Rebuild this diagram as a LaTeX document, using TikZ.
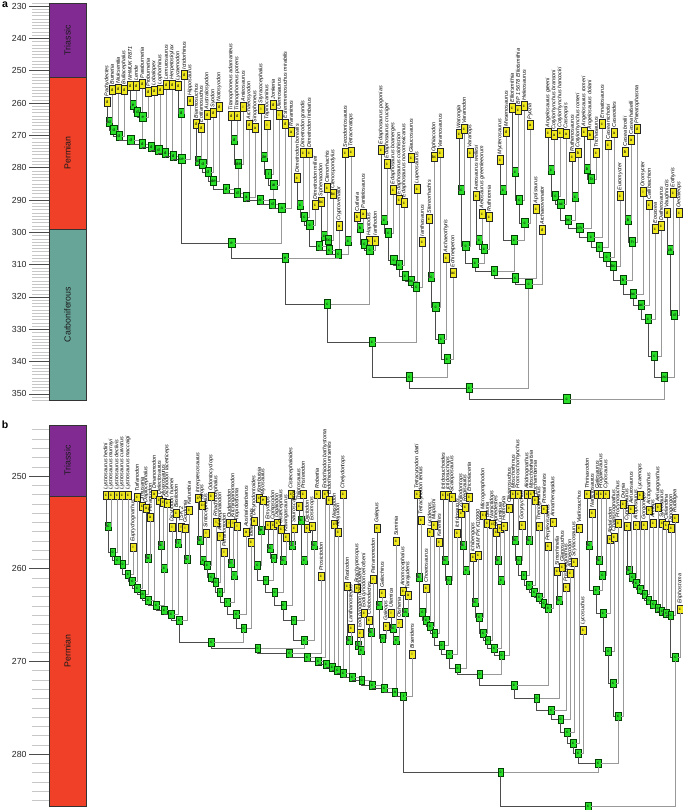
\documentclass[tikz,border=0pt]{standalone}
\usepackage{fontspec}
\setmainfont{Liberation Sans}
\usepackage{tikz}

\definecolor{leafyellow}{RGB}{240,232,30}
\definecolor{nodegreen}{RGB}{42,222,42}
\definecolor{triassic}{RGB}{129,43,146}
\definecolor{permian}{RGB}{240,64,40}
\definecolor{carbon}{RGB}{103,165,153}

% leaves: name/x/y/tag/taxon
\newcommand\leafrow[1]{%
  \foreach \nm/\lx/\ly/\tg/\tx in {#1}{%
    \node[leafbox] (\nm) at (\lx,\ly) {\tg};
    \node[taxon] (\nm-t) at (\nm.north) {\tx};
    \expandafter\xdef\csname nx@\nm\endcsname{\lx}%
  }%
}
% ladder: first child, prefix, list child/y/tag
\newcommand\treeladder[3]{%
  \xdef\lprev{#1}%
  \foreach \ch/\yy/\tg [count=\i] in {#3}{%
    \edef\xa{\csname nx@\lprev\endcsname}%
    \edef\xb{\csname nx@\ch\endcsname}%
    \pgfmathsetmacro\mx{(\xa+\xb)/2}%
    \node[nodebox] (#2\i) at (\mx,\yy) {\tg};
    \draw[lbranch] (\lprev.south) |- (#2\i);
    \draw[rbranch] (\ch.south) |- (#2\i);
    \expandafter\xdef\csname nx@#2\i\endcsname{\mx}%
    \xdef\lprev{#2\i}%
  }%
}

\begin{document}
\begin{tikzpicture}[x=0.03cm, y=-0.03cm,
  leafbox/.style={draw=black!85, fill=leafyellow, line width=0.35pt, inner sep=0.2pt,
    minimum width=5.4pt, minimum height=7.6pt, font=\fontsize{3.6}{4}\selectfont},
  nodebox/.style={leafbox, fill=nodegreen, draw=black!75!green},
  taxon/.style={rotate=90, anchor=west, inner sep=0.6pt, font=\fontsize{4.6}{5}\selectfont\itshape},
  lbranch/.style={draw=black!70, line width=0.55pt},
  rbranch/.style={draw=black!40, line width=0.55pt},
  minortick/.style={draw=black!22, line width=0.4pt},
  majortick/.style={draw=black!70, line width=0.5pt},
  ticklabel/.style={anchor=east, inner sep=1pt, font=\fontsize{7.5}{8}\selectfont, text=black!85},
  periodlabel/.style={rotate=90, font=\fontsize{7.5}{8}\selectfont, text=black!90},
  panellabel/.style={font=\fontsize{9}{10}\selectfont\bfseries},
  periodband/.style={draw=black!80, line width=0.4pt}
]
\useasboundingbox (0,0) rectangle (683,810);

% ---- panel a: time scale
\node[panellabel] (pa) at (5,5) {a};
\foreach \m in {229,...,352}{
  \pgfmathsetmacro\ty{6+(\m-230)*3.233}
  \draw[minortick] (32,\ty) -- (49,\ty);
}
\foreach \m in {230,240,...,350}{
  \pgfmathsetmacro\ty{6+(\m-230)*3.233}
  \draw[majortick] (29,\ty) -- (49,\ty);
  \node[ticklabel] (ta\m) at (28,\ty) {\m};
}
\filldraw[periodband, fill=triassic] (49,2.8) rectangle (86,77.7);
\filldraw[periodband, fill=permian] (49,77.7) rectangle (86,228.8);
\filldraw[periodband, fill=carbon] (49,228.8) rectangle (86,400.4);
\node[periodlabel] (tria) at (67.5,40.2) {Triassic};
\node[periodlabel] (perma) at (67.5,153.2) {Permian};
\node[periodlabel] (carba) at (67.5,314.6) {Carboniferous};

% ---- panel a: tree
\leafrow{a1/107/102/d/Pachydectes, a2/112/90/d/Burnetia, a3/118/89/d/Niuksenitia,
  a4/124/90/d/Bullacephalus, a5/130/86/d/NHMUK R871, a6/136/86/d/Lende,
  a7/142/84/d/Paraburnetia, a8/148/92/d/Proburnetia, a9/154/91/d/Lobalopex,
  a10/160/90/d/Lophorhinus, a11/166/85/d/Lemurosaurus, a12/172/85/d/Herpetoskylax,
  a13/178/86/d/Lycaenodon, a14/184/75/d/Ictidorhinus, a15/190/101/d/Hipposaurus,
  a16/196/124/d/Biarmosuchus, a17/201/128/d/Eotitanosuchus, a18/207/115/d/Australosyodon,
  a19/213/113/d/Syodon, a20/219/107/d/Notosyodon, a21/231/116/d/Titanophoneus adamanteus,
  a22/237/116/d/Titanophoneus potens, a23/243/107/i/Anteosaurus, a24/249/125/d/Archaeosyodon,
  a25/255/128/a/Sinophoneus, a26/261/109/i/Styracocephalus, a27/267/125/i/Tapinocaninus,
  a28/273/105/d/Jonkeria, a29/279/115/i/Ulemosaurus, a30/285/124/d/Estemmenosuchus mirabilis,
  a31/291/132/a/Raranimus, a32/297/178/c/Dimetrodon borealis, a33/303/153/c/Dimetrodon grandis,
  a34/309/153/c/Dimetrodon limbatus, a35/315/205/c/Dimetrodon milleri, a36/321/202/bc/Sphenacodon,
  a37/327/188/c/Ctenorhachis, a38/333/194/bc/Ctenospondylus, a39/339/226/a/Cryptovenator,
  a40/345/153/c/Secodontosaurus, a41/351/152/c/Tetraceratops, a42/357/217/b/Cutleria,
  a43/363/214/a/Pantelosaurus, a44/369/241/c/Haptodus, a45/375/241/c/Ianthodon,
  a46/381/150/c/Edaphosaurus pogonias, a47/387/164/c/Edaphosaurus cruciger,
  a48/393/190/c/Edaphosaurus boanerges, a49/399/200/c/Edaphosaurus colohistion,
  a50/404/203/c/Edaphosaurus novomexicanus, a51/411/158/c/Glaucosaurus, a52/417/189/c/Lupeosaurus,
  a53/422/242/c/Ianthasaurus, a54/429/219/c/Stereorhachis, a55/434/157/bc/Ophiacodon,
  a56/440/153/c/Varanosaurus, a57/446/258/c/Archaeothyris, a58/453/273/ac/Echinerpeton,
  a59/459/134/c/Watongia, a60/464/129/c/Varanodon, a61/470/153/c/Varanops,
  a62/476/196/c/Aerosaurus wellesi, a63/482/214/c/Aerosaurus greenleeorum, a64/489/217/c/Ruthiromia,
  a65/500/160/c/Mycterosaurus, a66/506/132/d/Mesenosaurus, a67/512/108/c/Elliotsmithia,
  a68/518/110/c/BP 1 5678 Elliotsmithia, a69/524/106/c/Heleosaurus, a70/530/125/a/Pyozia,
  a71/536/209/c/Apsisaurus, a72/542/230/d/Archaeovenator, a73/548/133/c/Angelosaurus greeni,
  a74/554/135/a/Cotylorhynchus bransoni, a75/560/133/c/Cotylorhynchus hancocki,
  a76/566/134/a/Caseopsis, a77/572/157/c/Ruthenosaurus, a78/578/153/b/Cotylorhynchus romeri,
  a79/584/132/c/Angelosaurus romeri, a80/590/135/b/Angelosaurus dolani, a81/596/153/c/Trichasaurus,
  a82/602/124/c/Ennatosaurus, a83/608/145/c/Casea nicholsi, a84/614/133/a/Caseoides,
  a85/620/196/c/Euromycter, a86/625/152/b/Casea broilii, a87/631/140/a/Casea halselli,
  a88/637/129/d/Phreatophasma, a89/643/192/i/Oromycter, a90/649/205/c/Callibrachion,
  a91/655/229/c/Eocasea, a92/661/226/c/Datheosaurus, a93/667/213/d/Vaughnictis,
  a94/673/193/c/Eothyris, a95/679/213/c/Oedaleops}

\treeladder{a5}{abx}{a6/105/e, a7/112/d, a8/117/e}
\treeladder{a13}{aby}{a14/113/d}
\treeladder{a1}{ab}{a2/122/d, a3/130/d, a4/136/d, abx3/140/d, a9/144/d, a10/147/d,
  a11/150/d, a12/153/d, aby1/156/d, a15/159/ce}
\treeladder{a21}{adt}{a22/140/d, a23/164/de}
\treeladder{a26}{ads}{a27/157/de, a28/174/i, a29/185/ai}
\treeladder{a16}{ad}{a17/161/d, a18/164/d, a19/172/d, a20/181/de, adt2/189/d, a24/193/d,
  a25/197/a, ads3/200/ai, a30/204/d, a31/208/a}
\treeladder{a32}{asd}{a33/205/c, a34/217/c, a35/225/c}
\treeladder{a36}{ass}{a37/236/c, a38/240/bc}
\treeladder{a40}{ast}{a41/241/c}
\treeladder{asd3}{as}{ass2/246/c, a39/250/c, ast1/254/c}
\treeladder{a42}{ah}{a43/228/b, a44/244/c, a45/250/c}
\treeladder{a46}{ae}{a47/220/c, a48/233/c, a49/260/c, a50/265/c, a51/276/c, a52/281/bc, a53/287/c}
\treeladder{a54}{ao}{a55/277/c, a56/307/c, a57/339/c, a58/359/c}
\treeladder{a59}{avv}{a60/190/c, a61/246/c}
\treeladder{a62}{ava}{a63/240/c, a64/249/c}
\treeladder{a67}{ave}{a68/172/c, a69/200/c, a70/223/c}
\treeladder{a65}{avm}{a66/190/c, ave3/240/c}
\treeladder{avv2}{av}{ava2/263/c, avm2/271/c, a71/278/c, a72/284/c}
\treeladder{a73}{acc}{a74/170/c, a75/196/c, a76/204/ac}
\treeladder{a77}{acr}{a78/197/c}
\treeladder{a79}{acd}{a80/169/b, a81/179/b}
\treeladder{a86}{acb}{a87/220/b, a88/242/h}
\treeladder{acc3}{ac}{acr1/220/bc, acd2/228/ch, a82/237/c, a83/247/c, a84/257/c, a85/266/bc,
  acb2/280/b, a89/294/ac, a90/305/ac, a91/319/c, a92/356/c}
\treeladder{a93}{aco}{a94/250/ch, a95/315/d}
\treeladder{ac11}{acs}{aco2/377/ac}
\treeladder{ab10}{aB}{ad10/243/e, as3/258/e, ah3/304/c, ae7/342/c, ao4/377/c, av4/388/c, acs1/399/c}

% ---- panel b: time scale
\node[panellabel] (pb) at (5,425) {b};
\foreach \m in {245,...,285}{
  \pgfmathsetmacro\ty{476+(\m-250)*9.27}
  \draw[minortick] (32,\ty) -- (49,\ty);
}
\foreach \m in {250,260,...,280}{
  \pgfmathsetmacro\ty{476+(\m-250)*9.27}
  \draw[majortick] (29,\ty) -- (49,\ty);
  \node[ticklabel] (tb\m) at (28,\ty) {\m};
}
\filldraw[periodband, fill=triassic] (49,425) rectangle (86,496.1);
\filldraw[periodband, fill=permian] (49,496.1) rectangle (86,806);
\node[periodlabel] (trib) at (67.5,460.5) {Triassic};
\node[periodlabel] (permb) at (67.5,651) {Permian};

% ---- panel b: tree
\begin{scope}[leafbox/.append style={minimum width=4.8pt, minimum height=7pt}]
\leafrow{b1/106/495/c/Lystrosaurus hedini, b2/111/495/c/Lystrosaurus murrayi,
  b3/117/495/c/Lystrosaurus declivis, b4/122/495/c/Lystrosaurus curvatus,
  b5/128/495/c/Lystrosaurus maccaigi, b6/133/547/i/Euptychognathus, b7/137/497/c/Turfanodon,
  b8/142/506/c/Jimusaria, b9/146/508/a/Daptocephalus, b10/150/517/a/Peramodon,
  b11/154/494/a/Dinanomodon, b12/159/500/c/Delectosaurus, b13/163/502/c/Vivaxosaurus,
  b14/167/503/c/Dicynodon lacerticeps, b15/172/527/i/Dicynodon huenei, b16/176/513/c/Basilodon,
  b17/181/527/i/TSK 2, b18/185/528/i/Gordonia, b19/189/510/c/Katumbia,
  b20/198/498/c/Interpresosaurus, b21/202/505/c/Syops, b22/206/533/i/Sintocephalus,
  b23/211/496/c/Odontocyclops, b24/216/522/i/Rhachiocephalus, b25/220/536/i/Aulacephalodon,
  b26/224/552/i/Pelanomodon, b27/229/523/i/Oudenodon, b28/233/523/i/Kitchinganomodon,
  b29/237/526/i/Tropidostoma, b30/246/532/a/Australobarbarus, b31/251/542/c/Idelesaurus,
  b32/254/521/a/Dicynodontoides, b33/259/498/c/Kombuisia, b34/263/500/e/Myosaurus,
  b35/268/525/c/Emydops, b36/273/525/c/Compsodon, b37/277/523/c/Digalodon,
  b38/281/529/c/Cistecephalus, b39/286/537/c/Kawingasaurus, b40/291/494/c/Cistecephaloides,
  b41/294/528/c/Sauroscaptor, b42/299/506/c/Thliptosaurus, b43/303/494/c/Pristerodon,
  b44/307/528/c/Diictodon, b45/312/526/c/Eosimops, b46/317/494/c/Robertia,
  b47/321/576/c/Prosictodon, b48/325/494/c/Endothiodon bathystoma, b49/329/500/c/Endothiodon uniseries,
  b50/334/524/c/Niassodon, b51/338/532/c/Abajudon, b52/343/494/c/Chelydontops,
  b53/347/586/c/Rastodon, b54/351/628/c/Lanthanostegus, b55/357/588/c/Brachyprosopus,
  b56/360/633/c/Eodicynodon oosthuizeni, b57/364/613/c/Eodicynodon oelofseni,
  b58/369/620/c/Colobodectes, b59/373/579/i/Patranomodon, b60/377/528/c/Galepus,
  b61/382/593/c/Galechirus, b62/386/626/c/Galeops, b63/391/613/i/Ulemica, b64/396/541/c/Suminia,
  b65/399/623/i/Otsheria, b66/403/591/c/Anomocephalus, b67/408/595/a/Tiarajudens,
  b68/412/654/i/Biseridens, b69/417/494/c/Tetracynodon darti, b70/421/520/c/Tetracynodon tenuis,
  b71/426/588/c/Choerosaurus, b72/430/532/c/Lycideops, b73/434/525/c/Mupashi,
  b74/439/542/c/Karenites, b75/443/495/c/Ictidosuchoides, b76/448/495/c/Ictidosuchops,
  b77/452/497/c/Scaloposaurus, b78/457/533/c/Ictidosaurus, b79/461/513/c/Zorillodontops,
  b80/465/507/c/Regisaurus, b81/469/497/c/Ericiolacerta, b82/473/557/c/Ichibengops,
  b83/478/555/c/SAM PK K10990, b84/483/515/c/Microgomphodon, b85/487/523/c/Bauria,
  b86/492/524/c/Nanictidops, b87/496/532/c/Silphedestes, b88/500/528/c/Lumkuia,
  b89/504/526/c/Hofmeyria, b90/509/508/c/Olivierosuchus, b91/513/494/c/Moschorhinus,
  b92/518/494/c/Promoschorhynchus, b93/522/525/c/Gorynychus, b94/527/494/c/Akidnognathus,
  b95/531/494/c/Moschowhaitsia, b96/535/500/c/Euchambersia, b97/539/526/c/Theriognathus,
  b98/544/509/c/Ptomalestes, b99/548/546/c/Perplexisaurus, b100/553/522/c/Annatherapsidus,
  b101/557/571/c/Simorhinella, b102/562/567/c/Glanosuchus, b103/566/587/c/Pristerognathus,
  b104/570/573/c/Alopecodon, b105/574/562/c/Scylacosaurus, b106/579/528/c/Viatkosuchus,
  b107/583/630/c/Lycosuchus, b108/587/494/c/Thrinaxodon, b109/592/513/c/Nanictosaurus,
  b110/597/494/c/Galesaurus, b111/601/494/c/Progalesaurus, b112/606/494/c/Cynosaurus,
  b113/610/539/c/Abdalodon, b114/614/537/c/Charassognathus, b115/618/523/c/Procynosuchus,
  b116/623/504/c/Dvinia, b117/627/526/c/Cyonosaurus, b118/631/509/c/Aelurosaurus,
  b119/636/525/c/Aloposaurus, b120/640/495/c/Lycaenops, b121/644/525/c/Gorgonops,
  b122/649/510/c/Arctognathus, b123/653/523/c/Arctops, b124/658/507/c/Aelurognathus,
  b125/662/523/c/Sycosaurus, b126/666/525/c/Clelandina, b127/671/528/c/Dinogorgon,
  b128/675/518/c/Rubidgea, b129/680/609/c/Eriphostoma}

\treeladder{b9}{blp}{b10/558/a}
\treeladder{b12}{blq}{b13/545/c, b14/568/c}
\treeladder{b16}{blr}{b17/543/i}
\treeladder{b18}{bls}{b19/559/c}
\treeladder{b1}{bl}{b2/526/c, b3/552/c, b4/560/c, b5/564/c, b6/574/c, b7/581/c, b8/588/c,
  blp1/594/a, b11/600/c, blq2/605/c, b15/610/c, blr1/614/c, bls1/620/c}
\treeladder{b27}{bop}{b28/563/i, b29/575/i}
\treeladder{b20}{bo}{b21/540/c, b22/560/c, b23/565/c, b24/577/c, b25/582/c, b26/592/c,
  bop2/602/i, b30/614/c, b31/628/c}
\treeladder{b33}{bep}{b34/530/e}
\treeladder{b35}{beq}{b36/548/c, b37/558/c}
\treeladder{b38}{ber}{b39/560/c}
\treeladder{b40}{bes}{b41/545/c}
\treeladder{b42}{bet}{b43/520/c, b44/560/c}
\treeladder{b45}{beu}{b46/545/c}
\treeladder{b32}{be}{bep1/565/c, beq2/580/c, ber1/592/c, bes1/605/c, bet2/620/c, beu1/640/c}
\treeladder{b53}{bnp}{b54/640/c}
\treeladder{b55}{bnq}{b56/645/c, b57/650/c}
\treeladder{b58}{bnr}{b59/632/c}
\treeladder{b60}{bns}{b61/605/c, b62/638/c}
\treeladder{b63}{bnt}{b64/628/c, b65/640/c}
\treeladder{b66}{bnu}{b67/612/a}
\treeladder{bl13}{bn}{bo9/642/c, be6/648/c, b47/653/c, b48/657/c, b49/661/c, b50/664/c,
  b51/667/c, b52/670/c, bnp1/673/c, bnq2/677/c, bnr1/680/c, bns2/685/c, bnt2/688/c,
  bnu1/692/a, b68/696/i}
\treeladder{b75}{btp}{b76/560/c, b77/580/c}
\treeladder{b79}{btq}{b80/545/c, b81/570/c}
\treeladder{b69}{bta}{b70/577/c, b71/612/c, b72/620/c, b73/626/c, b74/633/c, btp2/645/c,
  b78/654/c, btq2/668/c}
\treeladder{b87}{btr}{b88/560/c, b89/580/c}
\treeladder{b82}{btb}{b83/602/c, b84/617/c, b85/633/c, b86/640/c, btr2/648/c, b90/655/c}
\treeladder{b91}{bts}{b92/540/c}
\treeladder{b94}{btt}{b95/540/c}
\treeladder{bts1}{btc}{b93/560/c, btt1/575/c, b96/585/c, b97/592/c, b98/597/c, b99/603/c, b100/608/c}
\treeladder{b101}{btd}{b102/600/c}
\treeladder{bta8}{bt}{btb6/674/c, btc7/685/c, btd1/698/c, b103/710/c, b104/719/c, b105/732/c,
  b106/743/c, b107/753/c}
\treeladder{b110}{bcx}{b111/560/c, b112/575/c}
\treeladder{b108}{bc}{b109/545/c, bcx2/590/c, b113/613/c, b114/651/c, b115/683/c, b116/716/c}
\treeladder{b117}{bg}{b118/570/c, b119/577/c, b120/583/c, b121/589/c, b122/594/c, b123/600/c,
  b124/604/c, b125/608/c, b126/611/c, b127/613/c, b128/615/c}
\treeladder{bg11}{bgr}{b129/657/c}
\treeladder{bt8}{bx}{bc6/763/c}
\treeladder{bn15}{by}{bx1/772/c}
\treeladder{by1}{bz}{bgr1/806/c}
\end{scope}
\end{tikzpicture}
\end{document}
